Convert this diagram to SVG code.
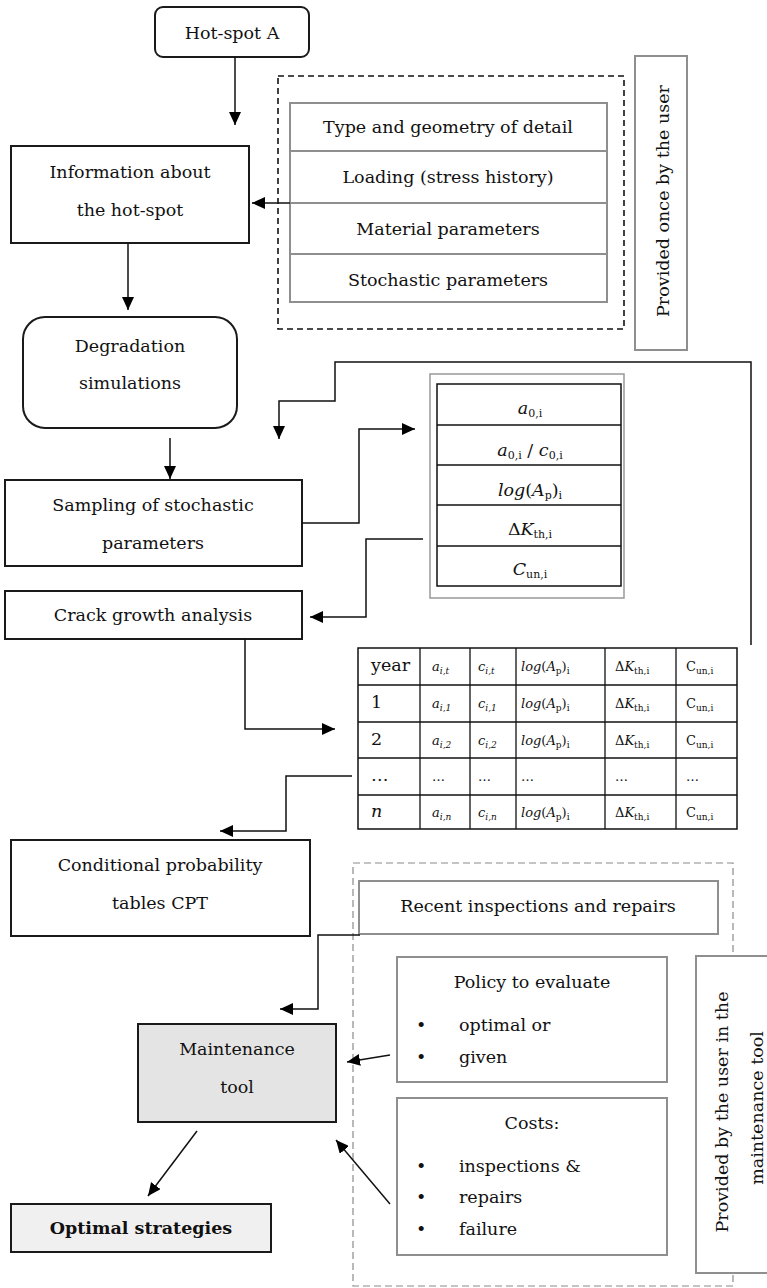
<svg xmlns="http://www.w3.org/2000/svg" width="767" height="1288" viewBox="0 0 767 1288">
<style>
text{font-family:"DejaVu Serif","Liberation Serif",serif;font-size:17.5px;fill:#111}
.c{text-anchor:middle}
.box{fill:#fff;stroke:#1a1a1a;stroke-width:2}
.gbox{fill:#fff;stroke:#8f8f8f;stroke-width:2}
.ln{fill:none;stroke:#111;stroke-width:1.5}
.thin{fill:none;stroke:#111;stroke-width:1.3}
.gln{fill:none;stroke:#8f8f8f;stroke-width:2}
.it{font-style:italic}
.sm{font-size:13px}
.sub{font-size:11px}
.sub2{font-size:9px}
</style>
<defs>
<marker id="ah" markerUnits="userSpaceOnUse" markerWidth="13" markerHeight="12" refX="13" refY="6" orient="auto">
<path d="M0,0 L13,6 L0,12 z" fill="#000"/>
</marker>
</defs>

<g id="hotspot">
<rect class="box" x="155" y="7" width="154" height="50" rx="8"/>
<text class="c" x="232" y="39">Hot-spot A</text>
</g>

<g id="info">
<rect class="box" x="11" y="146" width="238" height="97"/>
<text class="c" x="130" y="178">Information about</text>
<text class="c" x="130" y="216">the hot-spot</text>
</g>

<g id="user-once">
<rect x="278" y="76" width="346" height="253" fill="none" stroke="#111" stroke-width="1.6" stroke-dasharray="6,4"/>
<rect class="gbox" x="290" y="103" width="317" height="199"/>
<line class="gln" x1="290" y1="151" x2="607" y2="151"/>
<line class="gln" x1="290" y1="203" x2="607" y2="203"/>
<line class="gln" x1="290" y1="254" x2="607" y2="254"/>
<text class="c" x="448" y="133">Type and geometry of detail</text>
<text class="c" x="448" y="183">Loading (stress history)</text>
<text class="c" x="448" y="235">Material parameters</text>
<text class="c" x="448" y="286">Stochastic parameters</text>
</g>

<g id="provided-once">
<rect class="gbox" x="635" y="56" width="52" height="294"/>
<text class="c" transform="translate(669,201) rotate(-90)">Provided once by the user</text>
</g>

<g id="degradation">
<rect class="box" x="23" y="317" width="214" height="111" rx="22"/>
<text class="c" x="130" y="352">Degradation</text>
<text class="c" x="130" y="389">simulations</text>
</g>

<g id="sampling">
<rect class="box" x="5" y="480" width="297" height="86"/>
<text class="c" x="153" y="511">Sampling of stochastic</text>
<text class="c" x="153" y="549">parameters</text>
</g>

<g id="crack">
<rect class="box" x="5" y="591" width="297" height="48"/>
<text class="c" x="153" y="621">Crack growth analysis</text>
</g>

<g id="param-table">
<rect x="430" y="374" width="194" height="224" fill="#fff" stroke="#999" stroke-width="1.5"/>
<rect x="437" y="384" width="184" height="202" fill="#fff" stroke="#111" stroke-width="1.5"/>
<line class="thin" x1="437" y1="425" x2="621" y2="425"/>
<line class="thin" x1="437" y1="465" x2="621" y2="465"/>
<line class="thin" x1="437" y1="505" x2="621" y2="505"/>
<line class="thin" x1="437" y1="546" x2="621" y2="546"/>
<text class="c" x="530" y="414"><tspan class="it">a</tspan><tspan class="sub" dy="3">0,i</tspan></text>
<text class="c" x="530" y="456"><tspan class="it">a</tspan><tspan class="sub" dy="3">0,i</tspan><tspan dy="-3"> / </tspan><tspan class="it">c</tspan><tspan class="sub" dy="3">0,i</tspan></text>
<text class="c" x="530" y="496"><tspan class="it">log</tspan>(<tspan class="it">A</tspan><tspan class="sub" dy="3">p</tspan><tspan dy="-3">)</tspan><tspan class="sub" dy="3">i</tspan></text>
<text class="c" x="530" y="535">Δ<tspan class="it">K</tspan><tspan class="sub" dy="3">th,i</tspan></text>
<text class="c" x="530" y="575"><tspan class="it">C</tspan><tspan class="sub" dy="3">un,i</tspan></text>
</g>

<g id="results-table">
<rect x="358" y="648" width="379" height="181" fill="#fff" stroke="#111" stroke-width="1.5"/>
<line class="thin" x1="358" y1="685" x2="737" y2="685"/>
<line class="thin" x1="358" y1="722" x2="737" y2="722"/>
<line class="thin" x1="358" y1="758" x2="737" y2="758"/>
<line class="thin" x1="358" y1="795" x2="737" y2="795"/>
<line class="thin" x1="420" y1="648" x2="420" y2="829"/>
<line class="thin" x1="470" y1="648" x2="470" y2="829"/>
<line class="thin" x1="516" y1="648" x2="516" y2="829"/>
<line class="thin" x1="605" y1="648" x2="605" y2="829"/>
<line class="thin" x1="676" y1="648" x2="676" y2="829"/>
<text x="371" y="671" font-size="15">year</text>
<text x="371" y="708" font-size="15">1</text>
<text x="371" y="745" font-size="15">2</text>
<text x="371" y="781" font-size="15">…</text>
<text x="371" y="817" font-size="15" class="it">n</text>
<text class="sm" x="432" y="671"><tspan class="it">a</tspan><tspan class="sub2 it" dy="3">i,t</tspan></text>
<text class="sm" x="432" y="708"><tspan class="it">a</tspan><tspan class="sub2 it" dy="3">i,1</tspan></text>
<text class="sm" x="432" y="745"><tspan class="it">a</tspan><tspan class="sub2 it" dy="3">i,2</tspan></text>
<text class="sm" x="432" y="781">…</text>
<text class="sm" x="432" y="817"><tspan class="it">a</tspan><tspan class="sub2 it" dy="3">i,n</tspan></text>
<text class="sm" x="478" y="671"><tspan class="it">c</tspan><tspan class="sub2 it" dy="3">i,t</tspan></text>
<text class="sm" x="478" y="708"><tspan class="it">c</tspan><tspan class="sub2 it" dy="3">i,1</tspan></text>
<text class="sm" x="478" y="745"><tspan class="it">c</tspan><tspan class="sub2 it" dy="3">i,2</tspan></text>
<text class="sm" x="478" y="781">…</text>
<text class="sm" x="478" y="817"><tspan class="it">c</tspan><tspan class="sub2 it" dy="3">i,n</tspan></text>
<text class="sm" x="521" y="671"><tspan class="it">log</tspan>(<tspan class="it">A</tspan><tspan class="sub2" dy="3">p</tspan><tspan dy="-3">)</tspan><tspan class="sub2" dy="3">i</tspan></text>
<text class="sm" x="521" y="708"><tspan class="it">log</tspan>(<tspan class="it">A</tspan><tspan class="sub2" dy="3">p</tspan><tspan dy="-3">)</tspan><tspan class="sub2" dy="3">i</tspan></text>
<text class="sm" x="521" y="745"><tspan class="it">log</tspan>(<tspan class="it">A</tspan><tspan class="sub2" dy="3">p</tspan><tspan dy="-3">)</tspan><tspan class="sub2" dy="3">i</tspan></text>
<text class="sm" x="521" y="781">…</text>
<text class="sm" x="521" y="817"><tspan class="it">log</tspan>(<tspan class="it">A</tspan><tspan class="sub2" dy="3">p</tspan><tspan dy="-3">)</tspan><tspan class="sub2" dy="3">i</tspan></text>
<text class="sm" x="615" y="671">Δ<tspan class="it">K</tspan><tspan class="sub2" dy="3">th,i</tspan></text>
<text class="sm" x="615" y="708">Δ<tspan class="it">K</tspan><tspan class="sub2" dy="3">th,i</tspan></text>
<text class="sm" x="615" y="745">Δ<tspan class="it">K</tspan><tspan class="sub2" dy="3">th,i</tspan></text>
<text class="sm" x="615" y="781">…</text>
<text class="sm" x="615" y="817">Δ<tspan class="it">K</tspan><tspan class="sub2" dy="3">th,i</tspan></text>
<text class="sm" x="686" y="671">C<tspan class="sub2" dy="3">un,i</tspan></text>
<text class="sm" x="686" y="708">C<tspan class="sub2" dy="3">un,i</tspan></text>
<text class="sm" x="686" y="745">C<tspan class="sub2" dy="3">un,i</tspan></text>
<text class="sm" x="686" y="781">…</text>
<text class="sm" x="686" y="817">C<tspan class="sub2" dy="3">un,i</tspan></text>
</g>

<g id="cpt">
<rect class="box" x="11" y="840" width="299" height="96"/>
<text class="c" x="160" y="871">Conditional probability</text>
<text class="c" x="160" y="909">tables CPT</text>
</g>

<g id="user-maintenance">
<rect x="353" y="863" width="380" height="423" fill="none" stroke="#8a8a8a" stroke-width="1.2" stroke-dasharray="7,4"/>
</g>

<g id="recent">
<rect class="gbox" x="359" y="881" width="359" height="53"/>
<text class="c" x="538" y="912">Recent inspections and repairs</text>
</g>

<g id="policy">
<rect class="gbox" x="397" y="957" width="270" height="125"/>
<text class="c" x="532" y="988">Policy to evaluate</text>
<text x="416" y="1031">•</text>
<text x="459" y="1031">optimal or</text>
<text x="416" y="1063">•</text>
<text x="459" y="1063">given</text>
</g>

<g id="costs">
<rect class="gbox" x="397" y="1098" width="270" height="157"/>
<text class="c" x="532" y="1129">Costs:</text>
<text x="416" y="1172">•</text>
<text x="459" y="1172">inspections &amp;</text>
<text x="416" y="1203">•</text>
<text x="459" y="1203">repairs</text>
<text x="416" y="1235">•</text>
<text x="459" y="1235">failure</text>
</g>

<g id="provided-maintenance">
<rect class="gbox" x="696" y="956" width="80" height="317"/>
<text class="c" transform="translate(728,1112) rotate(-90)">Provided by the user in the</text>
<text class="c" transform="translate(763,1108) rotate(-90)">maintenance tool</text>
</g>

<g id="maintenance">
<rect x="138" y="1024" width="198" height="98" fill="#e4e4e4" stroke="#1a1a1a" stroke-width="2"/>
<text class="c" x="237" y="1055">Maintenance</text>
<text class="c" x="237" y="1093">tool</text>
</g>

<g id="optimal">
<rect x="11" y="1204" width="260" height="48" fill="#f0f0f0" stroke="#1a1a1a" stroke-width="2"/>
<text class="c" x="141" y="1234" font-weight="bold">Optimal strategies</text>
</g>

<g id="connectors">
<path class="ln" d="M235,57 V125" marker-end="url(#ah)"/>
<path class="ln" d="M290,203 H252" marker-end="url(#ah)"/>
<path class="ln" d="M128,243 V310" marker-end="url(#ah)"/>
<path class="ln" d="M170,438 V479" marker-end="url(#ah)"/>
<path class="ln" d="M751,645 V362 H335 V401 H279 V439" marker-end="url(#ah)"/>
<path class="ln" d="M302,523 H359 V429 H415" marker-end="url(#ah)"/>
<path class="ln" d="M423,539 H366 V617 H310" marker-end="url(#ah)"/>
<path class="ln" d="M245,639 V729 H335" marker-end="url(#ah)"/>
<path class="ln" d="M352,776 H286 V831 H220" marker-end="url(#ah)"/>
<path class="ln" d="M360,935 H318 V1009 H280" marker-end="url(#ah)"/>
<path class="ln" d="M390,1055 L347,1062" marker-end="url(#ah)"/>
<path class="ln" d="M390,1204 L336,1140" marker-end="url(#ah)"/>
<path class="ln" d="M197,1131 L148,1196" marker-end="url(#ah)"/>
</g>
</svg>
